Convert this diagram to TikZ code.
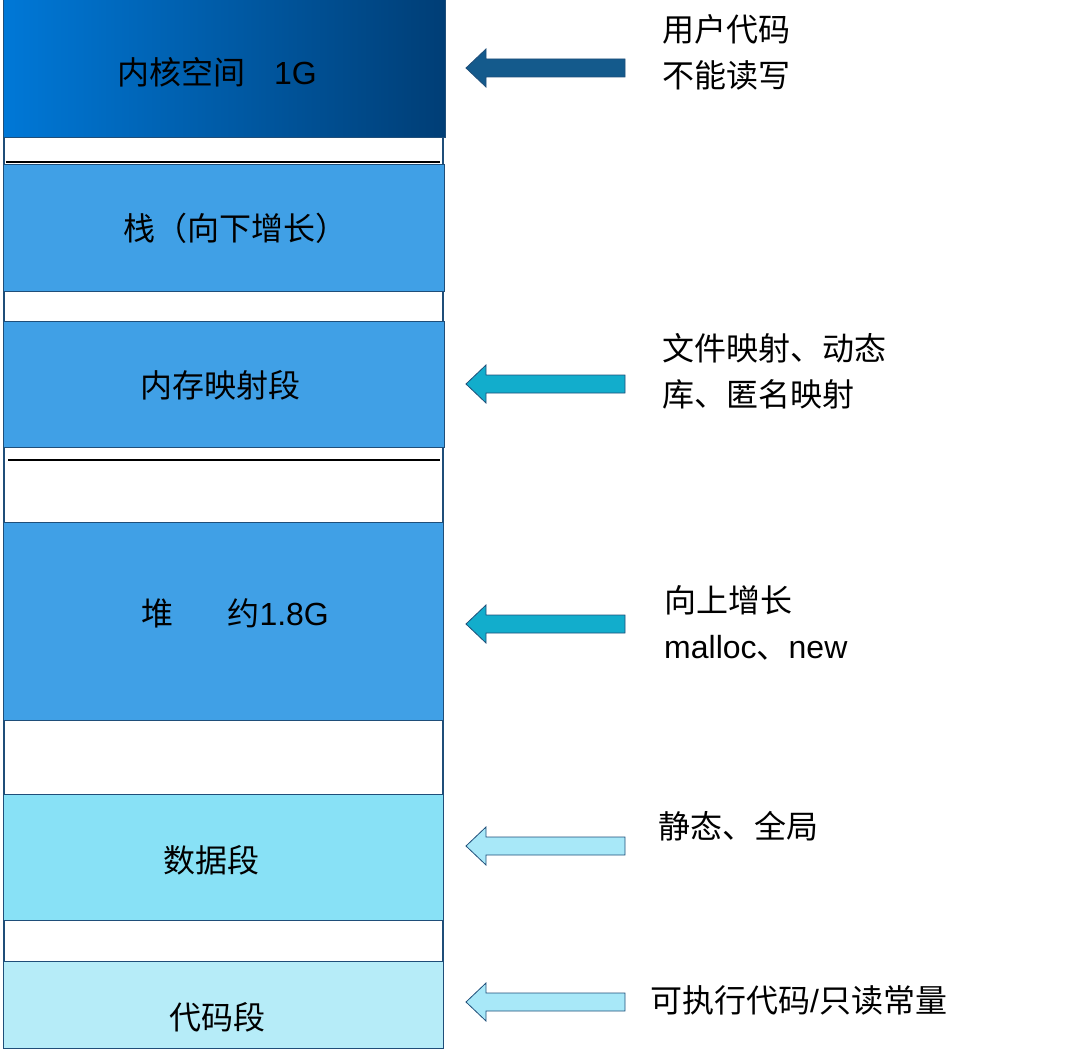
\documentclass[tikz,border=0pt]{standalone}
\usepackage{fontspec}
\setmainfont{Liberation Sans}
\newfontfamily\cjk{Noto Sans CJK SC}
\begin{document}
\begin{tikzpicture}[x=1pt,y=-1pt,
  seg/.style={draw=black!60!blue!70!cyan,line width=1pt},
  lbl/.style={font=\fontsize{32}{38}\selectfont\cjk},
  rt/.style={font=\fontsize{32}{46}\selectfont\cjk,anchor=north west,align=left,inner sep=0pt},
  larrow/.style={line width=0.8pt}]
\useasboundingbox (0,0) rectangle (1082,1049);
\definecolor{frame}{HTML}{1F4E79}
\definecolor{midb}{HTML}{40A0E6}
\definecolor{dataC}{HTML}{88E1F6}
\definecolor{codeC}{HTML}{B6ECF8}
\definecolor{arrA}{HTML}{145A8C}
\definecolor{arrB}{HTML}{12ADCC}
\definecolor{arrC}{HTML}{A8E8F8}
\draw[frame,line width=1.2pt] (4,2) rectangle (443,1047);
\shade[left color={rgb,255:red,0;green,120;blue,215}, right color={rgb,255:red,0;green,62;blue,118}] (3,0) rectangle (445,137);
\draw[frame,line width=1pt] (3,0) rectangle (445,137);
\node[lbl,text=black] (k) at (217,72) {内核空间\hspace{0.9em}\fontspec{Liberation Sans}1G};
\draw[black,line width=1.5pt] (6,162) -- (440,162);
\draw[frame,fill=midb,line width=1pt] (3,164) rectangle (444,291);
\node[lbl] (s) at (235,228) {栈（向下增长）};
\draw[frame,fill=midb,line width=1pt] (3,321) rectangle (444,447);
\node[lbl] (m) at (220,385) {内存映射段};
\draw[black,line width=1.2pt] (8,460) -- (440,460);
\draw[frame,fill=midb,line width=1pt] (3,522) rectangle (443,720);
\node[lbl] (h) at (235,613) {堆\hspace{1.7em}约{\fontspec{Liberation Sans}1.8G}};
\draw[frame,fill=dataC,line width=1pt] (3,794) rectangle (443,920);
\node[lbl] (d) at (211,860) {数据段};
\draw[frame,fill=codeC,line width=1pt] (3,961) rectangle (443,1048);
\node[lbl] (c) at (217,1017) {代码段};
% arrows
\foreach \yy/\fc/\dc in {68/arrA/frame,384/arrB/frame,624/arrB/frame,846/arrC/frame,1002/arrC/frame}{
  \draw[fill=\fc,draw=\dc,line width=0.8pt] (466,\yy) -- (486,\yy-19) -- (486,\yy-9) -- (625,\yy-9) -- (625,\yy+9) -- (486,\yy+9) -- (486,\yy+19) -- cycle;
}
\node[rt] (t1) at (662,14) {用户代码\\不能读写};
\node[rt] (t2) at (662,333) {文件映射、动态\\库、匿名映射};
\node[rt] (t3) at (664,585) {向上增长\\{\fontspec{Liberation Sans}malloc}、{\fontspec{Liberation Sans}new}};
\node[rt] (t4) at (658,811) {静态、全局};
\node[rt] (t5) at (650,985) {可执行代码{\fontspec{Liberation Sans}/}只读常量};
\end{tikzpicture}
\end{document}
